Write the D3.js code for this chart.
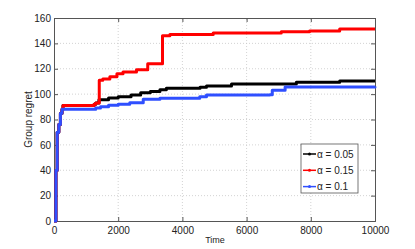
<!DOCTYPE html>
<html>
<head>
<meta charset="utf-8">
<script src="https://cdn.jsdelivr.net/npm/d3@7"></script>
<style>
  body { margin: 0; background: #fff; }
  text { font-family: "Liberation Sans", Arial, sans-serif; }
</style>
</head>
<body>
<div id="chart"></div>
<script>
// Step curves: [time, group regret]
const seriesNames = ["α = 0.05", "α = 0.15", "α = 0.1"];
const seriesColors = ["#000000", "#ff0000", "#2f4fff"];

const alpha005 = [
  [0, 0], [60, 40], [100, 70], [150, 76], [200, 85], [250, 88], [280, 91],
  [1200, 91], [1250, 92], [1300, 93], [1400, 95.5], [1700, 97], [2000, 98],
  [2400, 99.3], [2700, 101], [3000, 102], [3300, 103.5], [3500, 104.6],
  [4550, 105.5], [4750, 106.4], [5530, 108], [7550, 109.3], [8900, 110.3],
  [10000, 110.3],
];
const alpha015 = [
  [0, 0], [60, 40], [100, 70], [150, 76], [200, 85], [250, 88], [280, 91],
  [1200, 91], [1250, 92], [1300, 93], [1410, 111], [1520, 112], [1740, 113.7],
  [1960, 116], [2150, 117.5], [2570, 119.3], [2920, 124], [3380, 146],
  [3610, 147], [4960, 148.2], [7080, 149.1], [7960, 149.7], [8900, 151.3],
  [10000, 151.3],
];
const alpha01 = [
  [0, 0], [60, 40], [100, 70], [150, 76], [200, 85], [250, 88],
  [1200, 88], [1300, 89], [1450, 90], [1700, 91.2], [2000, 92], [2360, 93.3],
  [2780, 95.9], [3300, 96.7], [4540, 98], [4750, 99.4], [6720, 99.6],
  [6800, 103], [7200, 105.6], [10000, 106],
];

const xTicks = [0, 2000, 4000, 6000, 8000, 10000];
const yTicks = [0, 20, 40, 60, 80, 100, 120, 140, 160];

const width = 415;
const height = 249;
const margin = { top: 18, right: 40, bottom: 28, left: 54 };

const svg = d3
  .select("#chart")
  .append("svg")
  .attr("width", width)
  .attr("height", height);

const x = d3
  .scaleLinear()
  .domain([0, 10000])
  .range([margin.left, width - margin.right]);

const y = d3
  .scaleLinear()
  .domain([0, 160])
  .range([height - margin.bottom, margin.top]);

// Dotted grid
svg
  .append("g")
  .selectAll("line.vgrid")
  .data(xTicks.slice(1, -1))
  .enter()
  .append("line")
  .attr("x1", (d) => x(d))
  .attr("x2", (d) => x(d))
  .attr("y1", y(0))
  .attr("y2", y(160))
  .attr("stroke", "#c8c8c8")
  .attr("stroke-width", 0.8)
  .attr("stroke-dasharray", "1,2");

svg
  .append("g")
  .selectAll("line.hgrid")
  .data(yTicks.slice(1, -1))
  .enter()
  .append("line")
  .attr("x1", x(0))
  .attr("x2", x(10000))
  .attr("y1", (d) => y(d))
  .attr("y2", (d) => y(d))
  .attr("stroke", "#c8c8c8")
  .attr("stroke-width", 0.8)
  .attr("stroke-dasharray", "1,2");

// Axes with inward ticks, MATLAB style
const axisColor = "#555";

const bottomAxis = svg
  .append("g")
  .attr("transform", `translate(0,${y(0)})`)
  .call(d3.axisBottom(x).tickValues(xTicks).tickSize(-4).tickPadding(6).tickFormat(d3.format("d")));

const topAxis = svg
  .append("g")
  .attr("transform", `translate(0,${y(160)})`)
  .call(d3.axisTop(x).tickValues(xTicks).tickSize(-4).tickFormat(""));

const leftAxis = svg
  .append("g")
  .attr("transform", `translate(${x(0)},0)`)
  .call(d3.axisLeft(y).tickValues(yTicks).tickSize(-4).tickPadding(3));

const rightAxis = svg
  .append("g")
  .attr("transform", `translate(${x(10000)},0)`)
  .call(d3.axisRight(y).tickValues(yTicks).tickSize(-4).tickFormat(""));

[bottomAxis, topAxis, leftAxis, rightAxis].forEach((g) => {
  g.select(".domain").attr("stroke", axisColor);
  g.selectAll(".tick line").attr("stroke", axisColor);
  g.selectAll(".tick text")
    .attr("fill", "#222")
    .style("font-size", "10px")
    .style("font-family", "'Liberation Sans', Arial, sans-serif");
});

// Lines
const line = d3
  .line()
  .x((d) => x(d[0]))
  .y((d) => y(d[1]))
  .curve(d3.curveStepAfter);

const allSeries = [alpha005, alpha015, alpha01];

svg
  .append("g")
  .selectAll("path.series")
  .data(allSeries)
  .enter()
  .append("path")
  .attr("class", "series")
  .attr("d", line)
  .attr("fill", "none")
  .attr("stroke", (_, i) => seriesColors[i])
  .attr("stroke-width", 3)
  .attr("stroke-linejoin", "round");

// Axis labels
svg
  .append("text")
  .attr("x", x(5000) + 0.5)
  .attr("y", height - 6)
  .attr("text-anchor", "middle")
  .attr("fill", "#222")
  .style("font-size", "9px")
  .text("Time");

svg
  .append("text")
  .attr("transform", `translate(32,${(y(0) + y(160)) / 2}) rotate(-90)`)
  .attr("text-anchor", "middle")
  .attr("fill", "#222")
  .style("font-size", "10px")
  .text("Group regret");

// Legend
const legend = svg.append("g").attr("transform", "translate(301,144)");

legend
  .append("rect")
  .attr("width", 57)
  .attr("height", 49)
  .attr("fill", "#fff")
  .attr("stroke", "#555")
  .attr("stroke-width", 0.8);

const legendItems = legend
  .selectAll("g.item")
  .data(seriesNames)
  .enter()
  .append("g")
  .attr("class", "item")
  .attr("transform", (_, i) => `translate(0,${10 + i * 16.3})`);

legendItems
  .append("line")
  .attr("x1", 2)
  .attr("x2", 15)
  .attr("stroke", (_, i) => seriesColors[i])
  .attr("stroke-width", 1.5);

legendItems
  .append("circle")
  .attr("cx", 8.5)
  .attr("r", 1.5)
  .attr("fill", (_, i) => seriesColors[i]);

legendItems
  .append("text")
  .attr("x", 16)
  .attr("y", 3.5)
  .attr("fill", "#222")
  .style("font-size", "10px")
  .text((d) => d);
</script>
</body>
</html>
